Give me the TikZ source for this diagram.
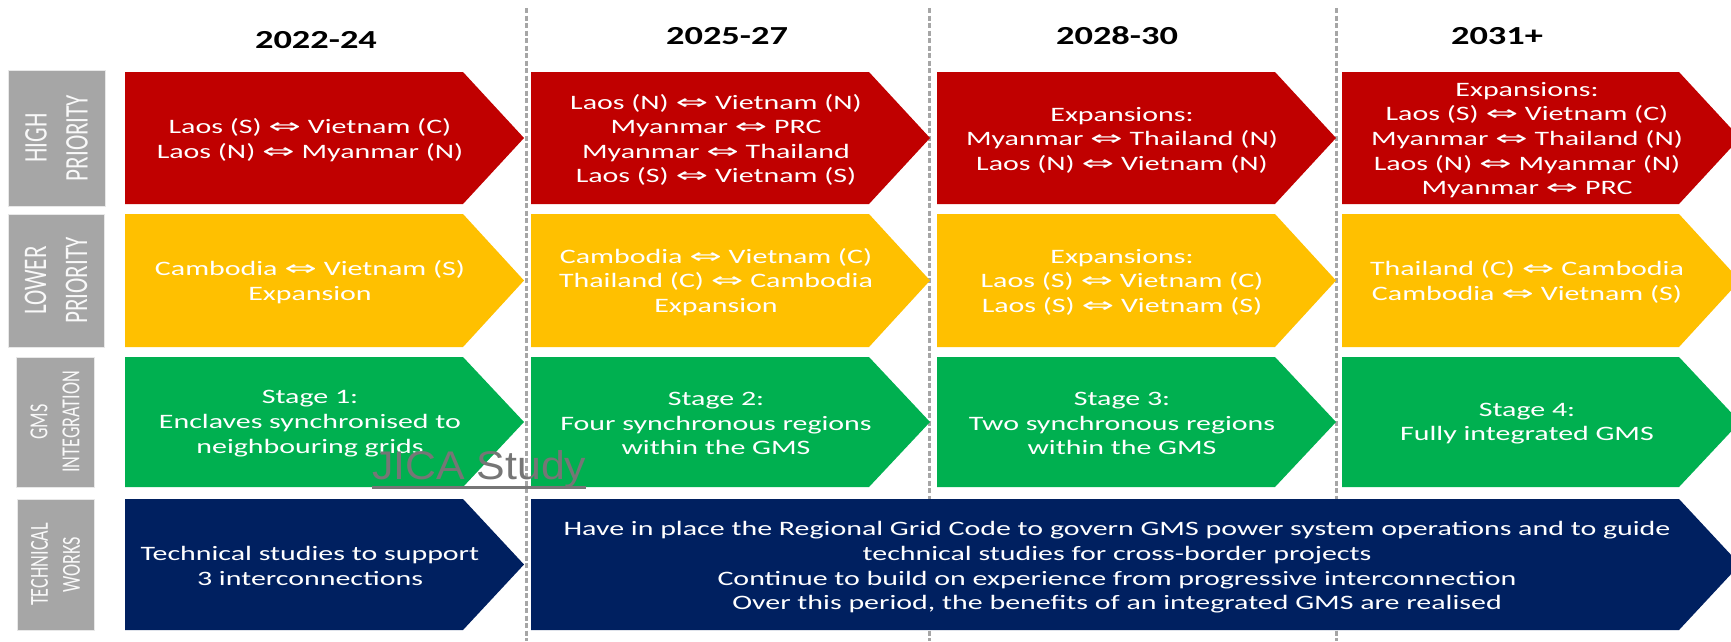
\documentclass[tikz,border=0pt]{standalone}
\usepackage{fontspec}
\newfontfamily\bodyfont{Carlito}[FakeStretch=1.46]
\newfontfamily\yearfont{Carlito}[FakeStretch=1.4]
\newfontfamily\labfont{Carlito}[FakeStretch=0.7]
\newfontfamily\symfont{DejaVu Sans}[FakeStretch=1.9]
\newfontfamily\wmfont{Liberation Sans}[FakeStretch=1.07]
\newcommand{\dbl}{{\symfont ⇔}}
\definecolor{hired}{HTML}{C00000}
\definecolor{loyel}{HTML}{FFC000}
\definecolor{gmsgreen}{HTML}{00B050}
\definecolor{technavy}{HTML}{002060}
\definecolor{labgray}{HTML}{A6A6A6}
\definecolor{dashgray}{HTML}{A6A6A6}
\definecolor{wmgray}{HTML}{767676}
\newcommand{\mkchev}[5]{%
  \fill[#5] (#1,#2) -- (#4,#2) -- ({#4+61},{(#2+#3)/2}) -- (#4,#3) -- (#1,#3) -- cycle;}
\tikzset{
  boxtext/.style={align=center, text=white, inner sep=0pt,
    font=\bodyfont\fontsize{20.5}{24.6}\selectfont},
  yeartext/.style={text=black, inner sep=0pt,
    font=\yearfont\bfseries\fontsize{26}{30}\selectfont},
  labbox/.style={fill=labgray, draw=white!82!gray, line width=1pt},
  labbig/.style={rotate=90, align=center, text=white!95!gray, inner sep=0pt,
    font=\labfont\fontsize{33}{41}\selectfont},
  labsmall/.style={rotate=90, align=center, text=white!95!gray, inner sep=0pt,
    font=\labfont\fontsize{26}{32}\selectfont},
  sepline/.style={dashgray, line width=3pt, dash pattern=on 5pt off 2.5pt}
}
\begin{document}
\begin{tikzpicture}[x=1pt,y=-1pt]
\useasboundingbox (0,0) rectangle (1731,641);
\clip (0,0) rectangle (1731,641);
\fill[white] (0,0) rectangle (1731,641);

% separators
\foreach \sx [count=\i] in {526,929,1336}{
  \coordinate (s\i top) at (\sx,8);
  \coordinate (s\i bot) at (\sx,641);
  \draw[sepline] (s\i top) -- (s\i bot);
}

% year labels
\node[yeartext] (y1) at (316,40) {2022-24};
\node[yeartext] (y2) at (727,36) {2025-27};
\node[yeartext] (y3) at (1117,36) {2028-30};
\node[yeartext] (y4) at (1497,36) {2031+};

% row labels
\fill[labbox] (8,70) rectangle (105,206);
\node[labbig] (l1) at (56.5,138) {HIGH\\PRIORITY};
\fill[labbox] (8,214) rectangle (104,347);
\node[labbig] (l2) at (56,280.5) {LOWER\\PRIORITY};
\fill[labbox] (16,357) rectangle (94,487);
\node[labsmall] (l3) at (55,422) {GMS\\INTEGRATION};
\fill[labbox] (17,499) rectangle (94,630);
\node[labsmall] (l4) at (55.5,564.5) {TECHNICAL\\WORKS};

% row 1: high priority
\mkchev{125}{72}{204}{463}{hired}
\mkchev{531}{72}{204}{869}{hired}
\mkchev{937}{72}{204}{1275}{hired}
\mkchev{1342}{72}{204}{1679}{hired}
\node[boxtext] (a1) at (310,140) {Laos (S) \dbl\ Vietnam (C)\\Laos (N) \dbl\ Myanmar (N)};
\node[boxtext] (a2) at (716,140) {Laos (N) \dbl\ Vietnam (N)\\Myanmar \dbl\ PRC\\Myanmar \dbl\ Thailand\\Laos (S) \dbl\ Vietnam (S)};
\node[boxtext] (a3) at (1122,140) {Expansions:\\Myanmar \dbl\ Thailand (N)\\Laos (N) \dbl\ Vietnam (N)};
\node[boxtext] (a4) at (1527,140) {Expansions:\\Laos (S) \dbl\ Vietnam (C)\\Myanmar \dbl\ Thailand (N)\\Laos (N) \dbl\ Myanmar (N)\\Myanmar \dbl\ PRC};

% row 2: lower priority
\mkchev{125}{214}{347}{463}{loyel}
\mkchev{531}{214}{347}{869}{loyel}
\mkchev{937}{214}{347}{1275}{loyel}
\mkchev{1342}{214}{347}{1679}{loyel}
\node[boxtext] (b1) at (310,282) {Cambodia \dbl\ Vietnam (S)\\Expansion};
\node[boxtext] (b2) at (716,282) {Cambodia \dbl\ Vietnam (C)\\Thailand (C) \dbl\ Cambodia\\Expansion};
\node[boxtext] (b3) at (1122,282) {Expansions:\\Laos (S) \dbl\ Vietnam (C)\\Laos (S) \dbl\ Vietnam (S)};
\node[boxtext] (b4) at (1527,282) {Thailand (C) \dbl\ Cambodia\\Cambodia \dbl\ Vietnam (S)};

% row 3: GMS integration
\mkchev{125}{357}{487}{463}{gmsgreen}
\mkchev{531}{357}{487}{869}{gmsgreen}
\mkchev{937}{357}{487}{1275}{gmsgreen}
\mkchev{1342}{357}{487}{1679}{gmsgreen}
\node[boxtext] (c1) at (310,423.5) {Stage 1:\\Enclaves synchronised to\\neighbouring grids};
\node[boxtext] (c2) at (716,423.5) {Stage 2:\\Four synchronous regions\\within the GMS};
\node[boxtext] (c3) at (1122,423.5) {Stage 3:\\Two synchronous regions\\within the GMS};
\node[boxtext] (c4) at (1527,423.5) {Stage 4:\\Fully integrated GMS};

% row 4: technical works
\mkchev{125}{499}{630}{463}{technavy}
\mkchev{531}{499}{630}{1679}{technavy}
\node[boxtext] (d1) at (310,566) {Technical studies to support\\3 interconnections};
\node[boxtext] (d2) at (1117,567.5) {Have in place the Regional Grid Code to govern GMS power system operations and to guide\\technical studies for cross-border projects\\Continue to build on experience from progressive interconnection\\Over this period, the benefits of an integrated GMS are realised};

% watermark
\node[anchor=base west, inner sep=0pt, text=wmgray, font=\wmfont\fontsize{40}{44}\selectfont] (wm) at (372,479) {JICA Study};
\draw[wmgray, line width=3pt] (wm.base west) ++(0,8) coordinate (ul1) -- (ul1 -| wm.east);
\end{tikzpicture}
\end{document}
